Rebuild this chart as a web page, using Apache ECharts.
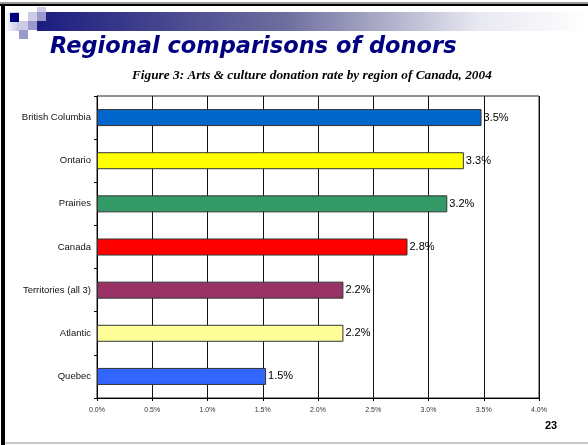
<!DOCTYPE html>
<html>
<head>
<meta charset="utf-8">
<script src="https://cdn.jsdelivr.net/npm/echarts@6/dist/echarts.min.js"></script>
<style>
  html, body { margin: 0; padding: 0; background: #fff; }
  #chart { width: 588px; height: 445px; }
</style>
</head>
<body>
<div id="chart"></div>
<script>
// Arts & culture donation rate by region, 2004 (percent)
const regions = ['British Columbia', 'Ontario', 'Prairies', 'Canada', 'Territories (all 3)', 'Atlantic', 'Quebec'];
const donationRate = [3.48, 3.32, 3.17, 2.81, 2.23, 2.23, 1.53];
const barColors = ['#0066CC', '#FFFF00', '#339966', '#FF0000', '#993366', '#FFFF99', '#3366FF'];
const xTicks = [0, 0.5, 1, 1.5, 2, 2.5, 3, 3.5, 4];

const chart = echarts.init(document.getElementById('chart'), null, { renderer: 'canvas' });

// slide decoration: frame, header band and corner squares
const deco = [
  { type: 'rect', shape: { x: 0, y: 2, width: 588, height: 2 }, style: { fill: '#999' }, silent: true },
  { type: 'rect', shape: { x: 0, y: 4, width: 588, height: 2 }, style: { fill: '#000' }, silent: true },
  { type: 'rect', shape: { x: 1, y: 4, width: 4, height: 441 }, style: { fill: '#000' }, silent: true },
  { type: 'rect', shape: { x: 5, y: 442, width: 583, height: 2 }, style: { fill: '#C8C8C8' }, silent: true },
  {
    type: 'rect', shape: { x: 5, y: 12, width: 14, height: 19 }, silent: true,
    style: { fill: new echarts.graphic.LinearGradient(0, 0, 1, 0, [{ offset: 0, color: '#FFFFFF' }, { offset: 1, color: '#C4C4E2' }]) }
  },
  {
    type: 'rect', shape: { x: 37, y: 12, width: 551, height: 19 }, silent: true,
    style: { fill: new echarts.graphic.LinearGradient(0, 0, 1, 0, [
      { offset: 0, color: '#1C1C80' }, { offset: 0.45, color: '#6E6E9E' }, { offset: 0.8, color: '#E8E8F2' }, { offset: 1, color: '#FFFFFF' }
    ]) }
  },
  { type: 'rect', shape: { x: 37, y: 7, width: 9, height: 5 }, style: { fill: '#CCCCE6' }, silent: true },
  { type: 'rect', shape: { x: 10, y: 13, width: 9, height: 9 }, style: { fill: '#000080' }, silent: true },
  { type: 'rect', shape: { x: 28, y: 12, width: 9, height: 9 }, style: { fill: '#CCCCE6' }, silent: true },
  { type: 'rect', shape: { x: 37, y: 12, width: 9, height: 9 }, style: { fill: '#9999CC' }, silent: true },
  { type: 'rect', shape: { x: 19, y: 21, width: 9, height: 9 }, style: { fill: '#CCCCE6' }, silent: true },
  { type: 'rect', shape: { x: 28, y: 21, width: 9, height: 9 }, style: { fill: '#9999CC' }, silent: true },
  { type: 'rect', shape: { x: 19, y: 30, width: 9, height: 9 }, style: { fill: '#9999CC' }, silent: true },
  {
    type: 'text', left: 50, top: 36, silent: true,
    style: { text: 'Regional comparisons of donors', fill: '#000080', font: 'italic bold 22.5px "DejaVu Sans"' }
  },
  {
    type: 'text', left: 132, top: 69, silent: true,
    style: { text: 'Figure 3: Arts & culture donation rate by region of Canada, 2004', fill: '#000', font: 'italic bold 13.3px "Liberation Serif"' }
  },
  {
    type: 'text', left: 545, top: 420, silent: true,
    style: { text: '23', fill: '#000', font: 'bold 11px "Liberation Sans"' }
  }
];

chart.setOption({
  animation: false,
  backgroundColor: '#fff',
  graphic: deco,
  grid: { left: 97, right: 49, top: 96, bottom: 47, show: true, borderColor: '#222', borderWidth: 1 },
  xAxis: {
    type: 'value', min: 0, max: 4, interval: 0.5,
    axisLine: { show: true, lineStyle: { color: '#000' } },
    axisTick: { show: true, length: 3, lineStyle: { color: '#000' } },
    splitLine: { show: true, lineStyle: { color: '#111', width: 1 } },
    axisLabel: {
      margin: 9, fontSize: 7, color: '#333', fontFamily: 'Liberation Sans',
      formatter: v => v.toFixed(1) + '%'
    }
  },
  yAxis: {
    type: 'category', data: regions, inverse: true,
    axisLine: { show: true, lineStyle: { color: '#000' } },
    axisTick: { show: true, length: 3, lineStyle: { color: '#000' } },
    axisLabel: { margin: 6, fontSize: 9.5, color: '#111', fontFamily: 'Liberation Sans' }
  },
  series: [{
    type: 'bar',
    data: donationRate.map((v, i) => ({ value: v, itemStyle: { color: barColors[i] } })),
    barWidth: 17,
    itemStyle: { borderColor: '#333', borderWidth: 1 },
    label: {
      show: true, position: 'right', distance: 2,
      fontSize: 11, color: '#000', fontFamily: 'Liberation Sans',
      formatter: p => p.value.toFixed(1) + '%'
    }
  }]
});
</script>
</body>
</html>
